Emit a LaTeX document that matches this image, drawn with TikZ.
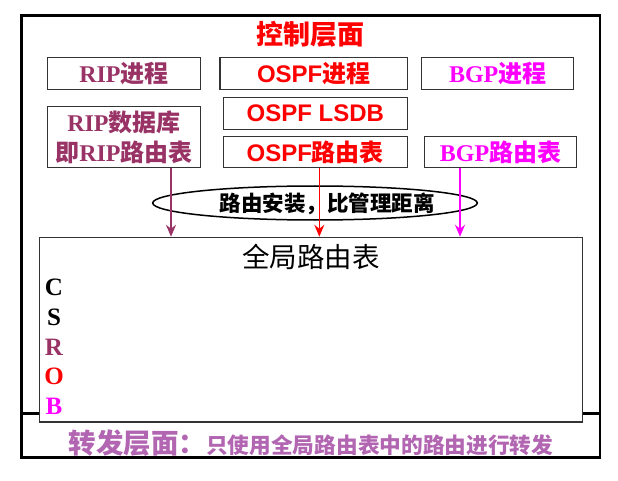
\documentclass[tikz,border=0pt]{standalone}
\usepackage{fontspec}
\setmainfont{Liberation Serif}
\newfontfamily\arialfont{Liberation Sans}
\newfontfamily\cjk{Noto Sans CJK SC}
\usetikzlibrary{arrows.meta,shapes.geometric}
\definecolor{ripcolor}{RGB}{153,51,102}
\definecolor{bgpcolor}{RGB}{255,0,255}
\definecolor{fwdcolor}{RGB}{178,102,178}
\definecolor{boxline}{RGB}{51,51,51}

\begin{document}
\begin{tikzpicture}[x=1pt,y=-1pt]
    \tikzstyle{procbox}=[rectangle,draw=boxline,line width=1.3pt,inner sep=0pt,minimum height=31.6pt,font=\bfseries\fontsize{24}{30}\selectfont]
    \tikzstyle{feed}=[line width=1.5pt,-{Stealth[length=12pt,width=10pt,inset=4pt]}]
    \tikzstyle{code}=[inner sep=0pt,font=\bfseries\fontsize{25}{25}\selectfont]
    \useasboundingbox (0,0) rectangle (618,481);
    \draw[line width=2.5pt] (21.7,15.7) rectangle (600,457.7);
    \draw[line width=2.5pt] (21.7,413.3) -- (600,413.3);
    \node (ctrl)[text=red,font=\cjk\bfseries\fontsize{27}{27}\selectfont] at (310,34) {控制层面};
    \node (rip)[procbox,text=ripcolor,minimum width=152.6pt] at (124,73.5) {RIP{\cjk 进程}};
    \node (ospf)[procbox,text=red,minimum width=187.3pt] at (313.7,73.5) {{\arialfont OSPF}{\cjk 进程}};
    \node (bgp)[procbox,text=bgpcolor,minimum width=152pt] at (497.7,73.5) {BGP{\cjk 进程}};
    \node (lsdb)[procbox,text=red,minimum width=184pt] at (315.3,113.5) {\arialfont OSPF LSDB};
    \node (ripdb)[procbox,text=ripcolor,align=center,minimum width=152.6pt,minimum height=61pt] at (124,137.2) {RIP{\cjk 数据库}\\{\cjk 即}RIP{\cjk 路由表}};
    \node (ospfrt)[procbox,text=red,minimum width=184pt,minimum height=31pt] at (315.3,152.2) {{\arialfont OSPF}{\cjk 路由表}};
    \node (bgprt)[procbox,text=bgpcolor,minimum width=152.4pt,minimum height=31pt] at (500.5,152.2) {BGP{\cjk 路由表}};
    \node (install)[ellipse,draw,line width=1.5pt,minimum width=324.6pt,minimum height=34pt,inner sep=0pt] at (315,203) {};
    \node (installtext)[font=\cjk\bfseries\fontsize{21.5}{21.5}\selectfont] at (327,204) {路由安装，比管理距离};
    \node (global)[rectangle,draw=boxline,line width=1.5pt,fill=white,minimum width=543.4pt,minimum height=184.5pt,inner sep=0pt] at (311,329.75) {};
    \node (globaltitle)[font=\cjk\fontsize{27.5}{27.5}\selectfont] at (311,257) {全局路由表};
    \node (c)[code] at (54,287) {C};
    \node (s)[code] at (54,317) {S};
    \node (r)[code,text=ripcolor] at (54,347) {R};
    \node (o)[code,text=red] at (54,376) {O};
    \node (b)[code,text=bgpcolor] at (54,406) {B};
    \node (fwd)[text=fwdcolor,font=\cjk\bfseries] at (311,443) {{\fontsize{27.5}{28}\selectfont 转发层面：}{\fontsize{21.7}{22}\selectfont 只使用全局路由表中的路由进行转发}};
    \draw[feed,ripcolor] ([xshift=47pt]ripdb.south) -- ([xshift=47pt]ripdb.south |- global.north);
    \draw[feed,red] ([xshift=4pt]ospfrt.south) -- ([xshift=4pt]ospfrt.south |- global.north);
    \draw[feed,bgpcolor] ([xshift=-40.5pt]bgprt.south) -- ([xshift=-40.5pt]bgprt.south |- global.north);
\end{tikzpicture}
\end{document}
